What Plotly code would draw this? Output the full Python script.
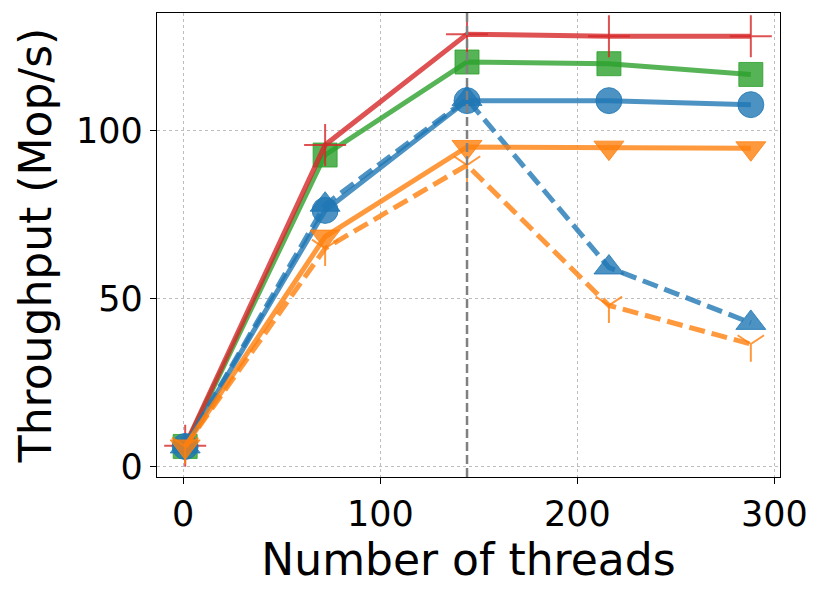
from plotly.graph_objects import Figure, Scatter

# thread counts and throughput (Mop/s) per variant
threads = [1, 72, 144, 216, 288]
red_plus = [6.2, 95.8, 128.8, 128.2, 128.2]
green_sq = [6.0, 92.8, 120.5, 120.0, 116.8]
blue_circle = [6.0, 76.3, 109.0, 109.0, 107.8]
blue_tri_dash = [6.0, 78.0, 109.5, 59.3, 42.8]
orange_tri_solid = [6.0, 68.5, 95.2, 95.0, 94.8]
orange_y_dash = [6.0, 65.0, 89.8, 48.0, 36.5]
marker_line_x = 144

def rgba(hexc, a=0.8):
    h = hexc.lstrip('#')
    return f'rgba({int(h[0:2],16)},{int(h[2:4],16)},{int(h[4:6],16)},{a})'

traces = [
    (green_sq, '#2ca02c', 'square', 'solid', 24),
    (red_plus, '#d62728', 'cross-thin', 'solid', 30),
    (blue_tri_dash, '#1f77b4', 'triangle-up', '16px,7px', 26),
    (blue_circle, '#1f77b4', 'circle', 'solid', 26),
    (orange_y_dash, '#ff7f0e', 'y-down', '16px,7px', 22),
    (orange_tri_solid, '#ff7f0e', 'triangle-down', 'solid', 26),
]

fig = Figure()
for ys, col, sym, dash, size in traces:
    thin = sym in ('cross-thin', 'y-down')
    fig.add_trace(Scatter(
        x=threads, y=ys, mode='lines+markers', cliponaxis=False,
        line=dict(color=rgba(col), width=5, dash=dash),
        marker=dict(symbol=sym, size=size, color=rgba(col),
                    line=dict(color=rgba(col), width=2 if thin else 1)),
        showlegend=False,
    ))

fig.add_shape(type='line', x0=marker_line_x, x1=marker_line_x, y0=0, y1=1,
              yref='paper', xref='x',
              line=dict(color='rgba(128,128,128,1)', width=2.5, dash='9px,4px'))

axis_common = dict(
    showline=True, linecolor='black', linewidth=1.2, mirror=True,
    ticks='outside', ticklen=6, tickwidth=1.2, tickcolor='black',
    showgrid=True, gridcolor='#bdbdbd', griddash='dot', gridwidth=1,
    zeroline=False, tickfont=dict(size=35, color='black'), automargin=False,
)

fig.update_layout(
    width=830, height=593,
    margin=dict(l=149, r=58, t=5, b=124),
    paper_bgcolor='white', plot_bgcolor='white',
    font=dict(family='DejaVu Sans', color='black'),
    xaxis=dict(range=[-13.3, 302.8], tickvals=[0, 100, 200, 300],
               title=dict(text='Number of threads', font=dict(size=44), standoff=0),
               **axis_common),
    yaxis=dict(range=[-3.1, 135.1], tickvals=[0, 50, 100],
               title=dict(text='Throughput (Mop/s)', font=dict(size=44), standoff=10),
               **axis_common),
)

fig.write_html('out.html')
